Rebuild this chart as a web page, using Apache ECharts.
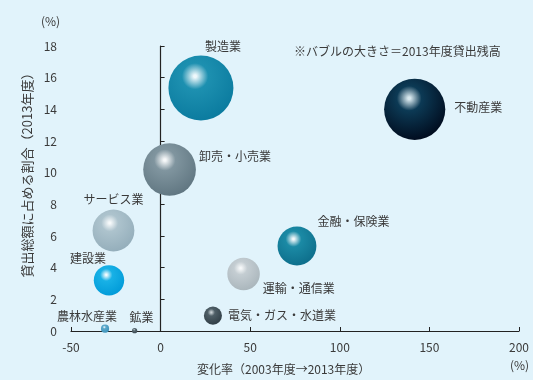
<!DOCTYPE html>
<html>
<head>
<meta charset="utf-8">
<script src="https://cdn.jsdelivr.net/npm/echarts@6/dist/echarts.min.js"></script>
<style>
  html, body { margin: 0; padding: 0; background: #e1f3fb; }
  #chart { width: 533px; height: 380px; }
</style>
</head>
<body>
<div id="chart"></div>
<script>
// 業種別：貸出残高の変化率（2003→2013年度）と貸出総額に占める割合（2013年度）
const industries = ['製造業', '不動産業', '卸売・小売業', 'サービス業', '建設業',
  '金融・保険業', '運輸・通信業', '電気・ガス・水道業', '農林水産業', '鉱業'];
const changeRate = [22.5, 141.8, 5.0, -26.3, -28.8, 76.1, 46.3, 29.2, -31.0, -14.5];   // %
const shareOfTotal = [15.35, 14.0, 10.2, 6.35, 3.2, 5.37, 3.6, 0.97, 0.15, 0.02];      // %
const loanBalance = [70, 62, 46, 29, 15.3, 25, 17.5, 5.4, 1.1, 0.45];                   // 兆円 (2013年度)
const xTicks = [-50, 0, 50, 100, 150, 200];
const yTicks = [0, 2, 4, 6, 8, 10, 12, 14, 16, 18];

// bubble shading: [highlight, mid, edge]
const shades = [
  ['#eef8fb', '#1d90b0', '#0a7a9e'],
  ['#d8e8ee', '#0c3a55', '#000a1c'],
  ['#f6f8f9', '#80959f', '#5f7580'],
  ['#f6f9fa', '#adc3cd', '#93adba'],
  ['#f2fbfe', '#18b1e6', '#009ad8'],
  ['#f2f8fa', '#1b8aa5', '#0d6d8a'],
  ['#f6f8f9', '#c4cdd2', '#a9b5bb'],
  ['#c9d1d5', '#4e5e66', '#2e3c44'],
  ['#e8f4f9', '#5aa8cb', '#3a90b8'],
  ['#d0d8dc', '#5a6a72', '#3a4850']
];
// label placement per bubble: [position, distance, dx, dy]
const labelPlace = [
  ['top', 3, 22, 0],
  ['right', 9, 0, -2],
  ['right', 3, 0, -13],
  ['top', 4, 0, 0],
  ['top', 1, -21, 0],
  ['right', 1, 0, -25],
  ['right', 3, 0, 14],
  ['right', 6, 0, 0],
  ['top', 2, -18, 0],
  ['top', 5, 7, 0]
];

const textColor = '#3a3a3a';
const font = '"Noto Sans CJK JP", "Noto Sans", sans-serif';

function gradient(s) {
  return {
    type: 'radial', x: 0.41, y: 0.32, r: 0.72,
    colorStops: [
      { offset: 0, color: s[0] },
      { offset: 0.03, color: s[0] },
      { offset: 0.28, color: s[1] },
      { offset: 1, color: s[2] }
    ]
  };
}

const data = industries.map((name, i) => ({
  name: name,
  value: [changeRate[i], shareOfTotal[i], loanBalance[i]],
  itemStyle: { color: gradient(shades[i]) },
  label: {
    show: true,
    formatter: '{b}',
    position: labelPlace[i][0],
    distance: labelPlace[i][1],
    offset: [labelPlace[i][2], labelPlace[i][3]],
    color: textColor,
    fontSize: 12,
    fontFamily: font
  }
}));

const yRange = { type: 'value', min: yTicks[0], max: yTicks[yTicks.length - 1], interval: 2,
  splitLine: { show: false } };

const chart = echarts.init(document.getElementById('chart'), null, { renderer: 'canvas' });
chart.setOption({
  backgroundColor: '#e1f3fb',
  animation: false,
  grid: { left: 71, right: 14, top: 46, bottom: 49, containLabel: false, outerBoundsMode: 'none' },
  xAxis: {
    type: 'value',
    min: xTicks[0], max: xTicks[xTicks.length - 1], interval: 50,
    splitLine: { show: false },
    axisLine: { show: true, onZero: true, lineStyle: { color: '#222', width: 1.2 } },
    axisTick: { show: true, inside: true, length: 4, lineStyle: { color: '#222' } },
    axisLabel: { color: textColor, fontSize: 12, fontFamily: font, margin: 10 }
  },
  yAxis: [
    // axis line through x = 0, ticks only
    Object.assign({}, yRange, {
      axisLine: { show: true, onZero: true, lineStyle: { color: '#222', width: 1.2 } },
      axisTick: { show: true, inside: true, length: 4, lineStyle: { color: '#222' } },
      axisLabel: { show: false }
    }),
    // tick labels along the left edge
    Object.assign({}, yRange, {
      position: 'left',
      axisLine: { show: false, onZero: false },
      axisTick: { show: false },
      axisLabel: { show: true, color: textColor, fontSize: 12, fontFamily: font, margin: 14 }
    })
  ],
  graphic: [
    { type: 'text', left: 41, top: 15,
      style: { text: '(%)', fill: textColor, fontSize: 12, fontFamily: font } },
    { type: 'text', left: 510, top: 359,
      style: { text: '(%)', fill: textColor, fontSize: 12, fontFamily: font } },
    { type: 'text', left: 197, top: 363,
      style: { text: '変化率（2003年度→2013年度）', fill: textColor, fontSize: 12, fontFamily: font } },
    { type: 'text', left: 294, top: 45,
      style: { text: '※バブルの大きさ＝2013年度貸出残高', fill: textColor, fontSize: 12, fontFamily: font } },
    { type: 'text', x: 27, y: 172, rotation: Math.PI / 2,
      style: { text: '貸出総額に占める割合（2013年度）', fill: textColor, fontSize: 13,
        fontFamily: font, align: 'center', verticalAlign: 'middle' } }
  ],
  series: [{
    type: 'scatter',
    yAxisIndex: 0,
    data: data,
    symbolSize: v => 7.77 * Math.sqrt(v[2]),
    itemStyle: { opacity: 1 }
  }]
});
</script>
</body>
</html>
